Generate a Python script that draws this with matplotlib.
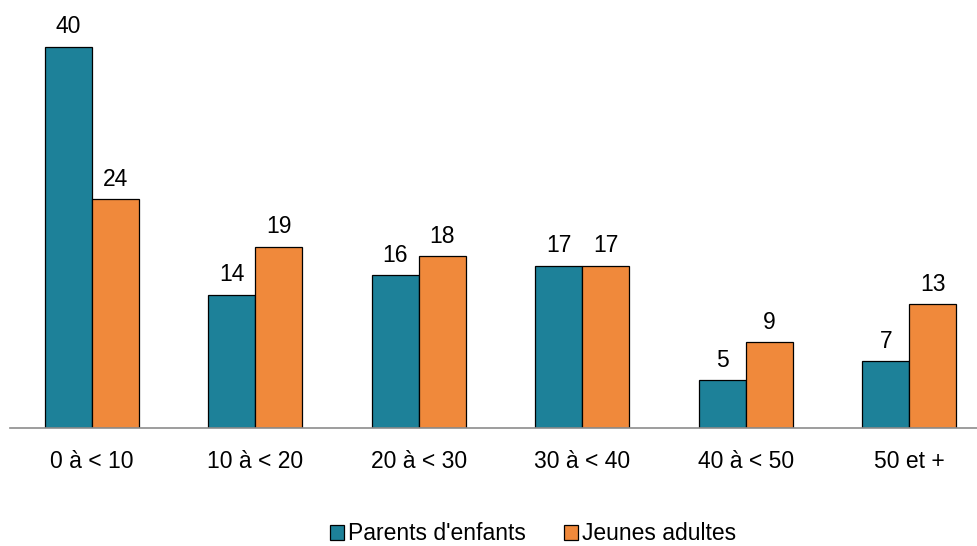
import matplotlib
matplotlib.use("Agg")
import matplotlib.pyplot as plt
import numpy as np

categories = ["0 à < 10", "10 à < 20", "20 à < 30", "30 à < 40", "40 à < 50", "50 et +"]
parents = [40, 14, 16, 17, 5, 7]
jeunes = [24, 19, 18, 17, 9, 13]
series_names = ["Parents d'enfants", "Jeunes adultes"]

teal = "#1d8199"
orange = "#f0893b"

plt.rcParams['font.family'] = ['Liberation Sans', 'DejaVu Sans']

fig = plt.figure(figsize=(9.77, 5.46), dpi=100)
ax = fig.add_axes([10 / 977, 118 / 546, 967 / 977, 428 / 546])

x = np.arange(len(categories))
w = 0.287
b1 = ax.bar(x - w / 2, parents, w, color=teal, edgecolor='black', linewidth=0.9,
            label=series_names[0])
b2 = ax.bar(x + w / 2, jeunes, w, color=orange, edgecolor='black', linewidth=0.9,
            label=series_names[1])

for bars, vals in ((b1, parents), (b2, jeunes)):
    for bar, v in zip(bars, vals):
        ax.text(bar.get_x() + bar.get_width() / 2, v + 0.9, str(v),
                ha='center', va='bottom', fontsize=16.5)

ax.set_xlim(-0.5, 5.414)
ax.set_ylim(0, 44.9)
ax.set_yticks([])
ax.set_xticks(x)
ax.set_xticklabels(categories, fontsize=16.5)
ax.tick_params(axis='x', length=0, pad=16)
for s in ['top', 'right', 'left']:
    ax.spines[s].set_visible(False)
ax.spines['bottom'].set_color('#8c8c8c')
ax.spines['bottom'].set_linewidth(1.2)

ax.legend(loc='center', bbox_to_anchor=(533 / 977, 12 / 546),
          bbox_transform=fig.transFigure, ncol=2, frameon=False,
          fontsize=16.5, handlelength=0.6, handleheight=0.6,
          handletextpad=0.15, columnspacing=1.7, borderpad=0)

fig.savefig("out.png", dpi=100)
